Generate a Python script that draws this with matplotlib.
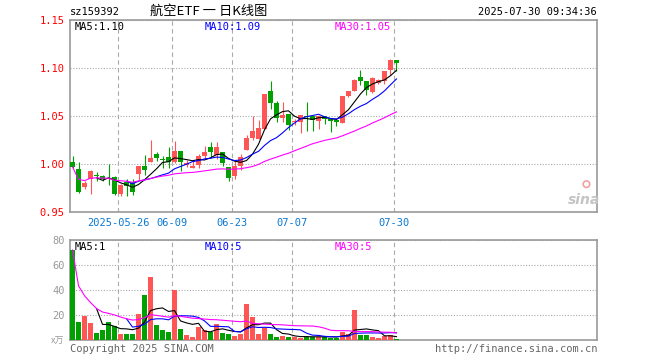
import pandas as pd
import matplotlib
matplotlib.use('Agg')
import matplotlib.pyplot as plt

# dados diarios (preco em yuan, volume em 10 mil)
opens = [1.002, 0.995, 0.976, 0.984, 0.989, 0.987, 0.985, 0.986, 0.969, 0.981,
         0.981, 0.990, 0.998, 1.002, 1.010, 1.005, 1.007, 1.002, 1.014, 0.999,
         0.996, 0.999, 1.008, 1.018, 1.009, 1.013, 0.997, 0.988, 0.998, 1.015,
         1.027, 1.026, 1.036, 1.076, 1.064, 1.048, 1.052, 1.044, 1.044, 1.050,
         1.050, 1.045, 1.050, 1.047, 1.046, 1.043, 1.071, 1.076, 1.091, 1.086,
         1.075, 1.084, 1.086, 1.098, 1.108]
closes = [0.997, 0.971, 0.980, 0.993, 0.987, 0.984, 0.984, 0.969, 0.978, 0.977,
          0.971, 0.998, 0.994, 1.006, 1.006, 1.004, 1.002, 1.014, 1.002, 1.001,
          0.998, 1.008, 1.012, 1.013, 1.018, 1.001, 0.985, 0.998, 1.007, 1.027,
          1.034, 1.037, 1.073, 1.064, 1.048, 1.051, 1.041, 1.045, 1.051, 1.049,
          1.046, 1.050, 1.047, 1.045, 1.044, 1.071, 1.076, 1.088, 1.086, 1.077,
          1.090, 1.088, 1.097, 1.108, 1.105]
highs = [1.008, 1.002, 0.982, 0.994, 0.992, 0.989, 1.000, 0.987, 0.979, 0.984,
         0.984, 0.998, 1.009, 1.025, 1.013, 1.008, 1.018, 1.024, 1.014, 1.004,
         1.004, 1.010, 1.019, 1.023, 1.023, 1.013, 0.997, 1.004, 1.010, 1.030,
         1.050, 1.046, 1.073, 1.086, 1.066, 1.065, 1.052, 1.047, 1.051, 1.065,
         1.050, 1.050, 1.050, 1.047, 1.046, 1.071, 1.076, 1.089, 1.098, 1.086,
         1.091, 1.089, 1.097, 1.109, 1.108]
lows = [0.996, 0.970, 0.974, 0.969, 0.982, 0.982, 0.978, 0.968, 0.967, 0.967,
        0.968, 0.983, 0.989, 1.002, 1.003, 0.996, 0.996, 1.001, 0.993, 0.997,
        0.996, 0.996, 1.005, 1.006, 1.005, 0.998, 0.982, 0.984, 0.994, 1.015,
        1.025, 1.026, 1.036, 1.057, 1.044, 1.044, 1.035, 1.041, 1.032, 1.034,
        1.034, 1.036, 1.042, 1.033, 1.040, 1.043, 1.070, 1.076, 1.082, 1.072,
        1.074, 1.083, 1.083, 1.093, 1.097]
volumes = [72, 14.7, 19.5, 13.9, 5.9, 8.3, 14.7, 11.5, 5, 5,
           5, 21, 36, 50.7, 12.3, 8.3, 6.7, 40, 9, 4.3,
           2.7, 10.7, 8.3, 6.7, 13, 5.9, 5, 3.5, 5, 29,
           18.7, 5, 9.9, 5, 2.7, 3.5, 2.7, 2.7, 2, 2.7,
           2.7, 2.7, 2.7, 2, 2, 6.7, 5, 24, 4.3, 4.3,
           2.7, 2, 3.5, 4.3, 1]

tick_idx = [8, 17, 27, 37, 54]
tick_labels = ['2025-05-26', '06-09', '06-23', '07-07', '07-30']
price_ticks = [0.95, 1.00, 1.05, 1.10, 1.15]
vol_ticks = [20, 40, 60, 80]

RED = '#ff5555'
GREEN = '#00a000'
GRID = '#aaaaaa'
FRAME = '#999999'
MONO = 'DejaVu Sans Mono'
CJK = ['Noto Sans CJK SC', 'DejaVu Sans']

df = pd.DataFrame({'o': opens, 'h': highs, 'l': lows, 'c': closes, 'v': volumes})
df['cor'] = [RED if c >= o else GREEN for o, c in zip(df['o'], df['c'])]
x = list(range(len(df)))

ma5 = df['c'].rolling(5).mean()
ma10 = df['c'].rolling(10).mean()
ma30 = df['c'].rolling(30, min_periods=1).mean()
vma5 = df['v'].rolling(5).mean()
vma10 = df['v'].rolling(10).mean()
vma30 = df['v'].rolling(30, min_periods=1).mean()

W, H = 660, 360
fig = plt.figure(figsize=(W / 100, H / 100), dpi=100)


def box(l, t, r, b):
    return [l / W, 1 - b / H, (r - l) / W, (b - t) / H]


def ftxt(px, py, s, **kw):
    fig.text(px / W, 1 - py / H, s, va='center', **kw)


ax = fig.add_axes(box(70, 20, 597, 212))
axv = fig.add_axes(box(70, 240, 597, 340))

xlim = (-0.42, 87.42)
line_pos = [i - 0.38 for i in tick_idx]

for a in (ax, axv):
    a.set_xlim(*xlim)
    for s in a.spines.values():
        s.set_color(FRAME)
        s.set_linewidth(1.2)
    a.grid(axis='y', color=GRID, linestyle=(0, (1, 1.5)), linewidth=0.8, zorder=0)
    for p in line_pos:
        a.axvline(p, color=GRID, linestyle=(0, (4, 3)), linewidth=0.8, zorder=0)
    a.tick_params(length=0)

# candles
ax.vlines(x, df['l'], df['h'], colors=df['cor'], linewidth=0.8, zorder=2)
body = [max(abs(c - o), 0.0006) for o, c in zip(df['o'], df['c'])]
ax.bar(x, body, bottom=[min(o, c) for o, c in zip(df['o'], df['c'])],
       width=0.83, color=df['cor'], linewidth=0, zorder=3)
ax.plot(x, ma5, color='black', linewidth=0.8, zorder=4)
ax.plot(x, ma10, color='#0000ff', linewidth=0.8, zorder=4)
ax.plot(x, ma30, color='#ff00ff', linewidth=0.8, zorder=4)
ax.set_ylim(0.95, 1.15)
ax.set_yticks(price_ticks)
ax.set_yticklabels(['%.2f' % t for t in price_ticks], family=MONO, fontsize=7.5)
ax.tick_params(axis='y', labelcolor='red', pad=4)
ax.set_xticks(line_pos)
ax.set_xticklabels(tick_labels, family=MONO, fontsize=7.5)
ax.tick_params(axis='x', labelcolor='#0a78d2', pad=4)

# sina logo
ax.text(0.975, 0.065, 'sina', transform=ax.transAxes, ha='center', va='center',
        fontsize=10, fontstyle='italic', fontweight='bold', color='#c4c4c4')
ax.scatter([0.98], [0.145], transform=ax.transAxes, s=22, facecolors='none',
           edgecolors='#f2a0a0', linewidths=1.2, zorder=5)

# volume
axv.bar(x, df['v'], width=0.83, color=df['cor'], linewidth=0, zorder=3)
axv.plot(x, vma5, color='black', linewidth=0.8, zorder=4)
axv.plot(x, vma10, color='#0000ff', linewidth=0.8, zorder=4)
axv.plot(x, vma30, color='#ff00ff', linewidth=0.8, zorder=4)
axv.set_ylim(0, 80)
axv.set_yticks(vol_ticks)
axv.set_yticklabels([str(t) for t in vol_ticks], family=MONO, fontsize=7.5)
axv.tick_params(axis='y', labelcolor='#999999', pad=4)
axv.set_xticks([])

# textos
ftxt(70, 12, 'sz159392', family=MONO, fontsize=7.5, color='black')
ftxt(209, 11, '航空ETF 一 日K线图', family=CJK, fontsize=9.5, color='black', ha='center')
ftxt(597, 12, '2025-07-30 09:34:36', family=MONO, fontsize=7.5, color='black', ha='right')
ftxt(75, 27, 'MA5:1.10', family=MONO, fontsize=7.5, color='black')
ftxt(205, 27, 'MA10:1.09', family=MONO, fontsize=7.5, color='#0000ff')
ftxt(335, 27, 'MA30:1.05', family=MONO, fontsize=7.5, color='#ff00ff')
ftxt(75, 247, 'MA5:1', family=MONO, fontsize=7.5, color='black')
ftxt(205, 247, 'MA10:5', family=MONO, fontsize=7.5, color='#0000ff')
ftxt(335, 247, 'MA30:5', family=MONO, fontsize=7.5, color='#ff00ff')
ftxt(64, 341, 'x万', family=CJK, fontsize=6.5, color='#999999', ha='right')
ftxt(70, 349, 'Copyright 2025 SINA.COM', family=MONO, fontsize=7.5, color='#666666')
ftxt(597, 349, 'http://finance.sina.com.cn', family=MONO, fontsize=7.5, color='#666666', ha='right')

fig.savefig('out.png', dpi=100)
